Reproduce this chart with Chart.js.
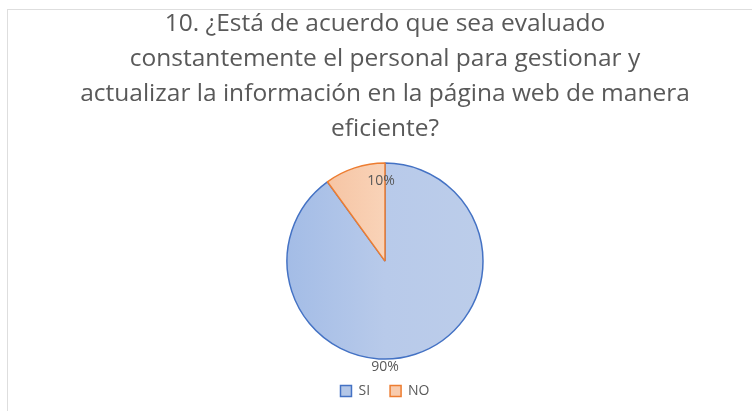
<!DOCTYPE html>
<html>
<head>
<meta charset="utf-8">
<script src="https://cdn.jsdelivr.net/npm/chart.js@4"></script>
<style>
  html, body { margin: 0; padding: 0; background: #fff; overflow: hidden; }
  #marco {
    position: absolute; left: 7px; top: 9px; width: 760px; height: 420px;
    border-left: 1px solid #dedede; border-top: 1px solid #dedede;
  }
  #lienzo { position: absolute; left: 0; top: 0; }
</style>
</head>
<body>
<div id="marco"></div>
<canvas id="lienzo" width="752" height="411"></canvas>
<script>
// Datos del gráfico
const categorias = ["SI", "NO"];
const porcentajes = [90, 10];
const titulo = [
  "10. ¿Está de acuerdo que sea evaluado",
  "constantemente el personal para gestionar y",
  "actualizar la información en la página web de manera",
  "eficiente?"
];

const rellenos = ["#b4c7e7", "#f8cbad"];
const bordes = ["#4472c4", "#ed7d31"];

// Relleno con degradado suave, como en Excel
function relleno(ctx) {
  const chart = ctx.chart;
  const area = chart.chartArea;
  const i = ctx.dataIndex;
  if (!area) return rellenos[i];
  const cx = area.left + area.width / 2;
  let g;
  if (i === 0) {
    g = chart.ctx.createLinearGradient(cx - 100, 0, cx + 100, 0);
    g.addColorStop(0, "#a3bce6");
    g.addColorStop(0.5, "#b8caea");
    g.addColorStop(1, "#bccdea");
  } else {
    g = chart.ctx.createLinearGradient(cx - 60, 0, cx, 0);
    g.addColorStop(0, "#f6c4a3");
    g.addColorStop(1, "#f9d3b8");
  }
  return g;
}

// Etiquetas de porcentaje estilo Excel
const etiquetas = {
  id: "etiquetas",
  afterDatasetsDraw(chart) {
    const ctx = chart.ctx;
    const arcos = chart.getDatasetMeta(0).data;
    ctx.save();
    ctx.font = "14px 'Open Sans', sans-serif";
    ctx.fillStyle = "#595959";
    ctx.textAlign = "center";
    ctx.textBaseline = "middle";
    arcos.forEach((arco, i) => {
      const r = arco.outerRadius;
      let x, y;
      if (i === 0) {
        x = arco.x;
        y = arco.y + r + 8;
      } else {
        x = arco.x - 4;
        y = arco.y - r * 0.82;
      }
      ctx.fillText(porcentajes[i] + "%", x, y);
    });
    ctx.restore();
  }
};

new Chart(document.getElementById("lienzo"), {
  type: "pie",
  data: {
    labels: categorias,
    datasets: [{
      data: porcentajes,
      backgroundColor: relleno,
      borderColor: bordes,
      borderWidth: 1.5,
      radius: 98
    }]
  },
  options: {
    responsive: false,
    animation: false,
    layout: { padding: { left: 18, right: 0, top: 0, bottom: 3 } },
    plugins: {
      title: {
        display: true,
        text: titulo,
        color: "#595959",
        font: { family: "'Open Sans', sans-serif", size: 24.5, weight: "normal", lineHeight: 1.42 },
        padding: { top: 7, bottom: 12 }
      },
      legend: {
        position: "bottom",
        labels: {
          color: "#595959",
          font: { family: "'Open Sans', sans-serif", size: 14 },
          boxWidth: 11,
          boxHeight: 11,
          padding: 20,
          generateLabels() {
            return categorias.map((c, i) => ({
              text: c,
              fillStyle: rellenos[i],
              strokeStyle: bordes[i],
              lineWidth: 1.5,
              fontColor: "#595959",
              index: i
            }));
          }
        }
      },
      tooltip: { enabled: false }
    }
  },
  plugins: [etiquetas]
});
</script>
</body>
</html>
